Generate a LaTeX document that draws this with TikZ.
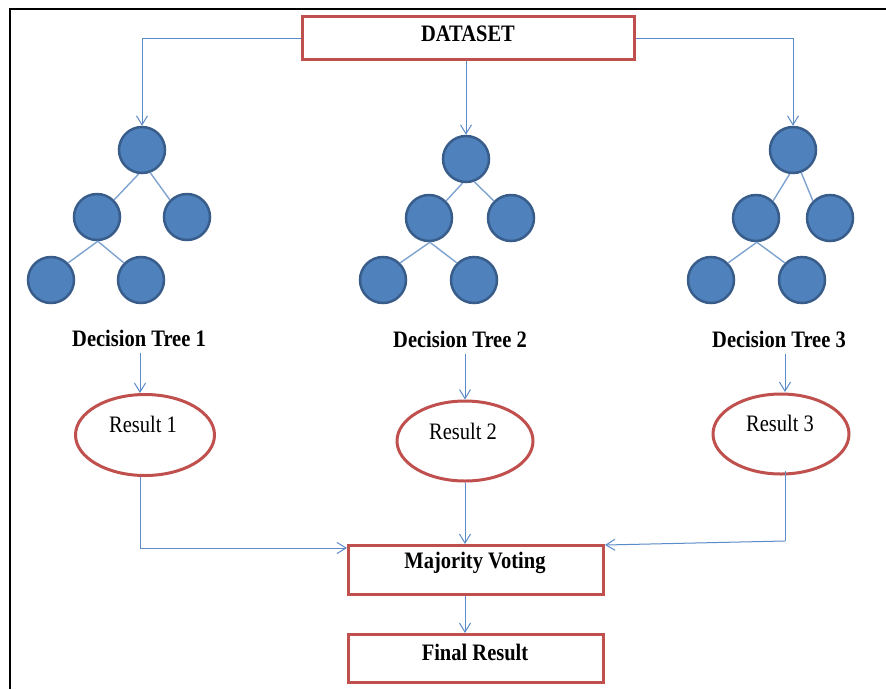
\documentclass[tikz,border=0pt]{standalone}
\usepackage{fontspec}
\setmainfont{Liberation Serif}
\usetikzlibrary{arrows.meta,shapes.geometric,calc}
\definecolor{boxred}{HTML}{C0504D}
\definecolor{nodeblue}{HTML}{4F81BD}
\definecolor{nodeborder}{HTML}{385D8A}
\definecolor{linkblue}{HTML}{5B8BC8}
\definecolor{edgeblue}{HTML}{7FA3D1}
\newcommand\vstr[1]{\scalebox{1}[1.15]{#1}}
\tikzset{
  redbox/.style={draw=boxred,line width=3pt,rectangle,inner sep=0pt},
  redell/.style={draw=boxred,line width=3pt,ellipse,inner sep=0pt},
  treenode/.style={circle,fill=nodeblue,draw=nodeborder,line width=2.5pt,minimum size=46pt,inner sep=0pt},
  treeedge/.style={draw=edgeblue,line width=1.4pt},
  arr/.style={draw=linkblue,line width=1pt,-{Straight Barb[length=9pt,width=11pt,line width=1pt]}},
  link/.style={draw=linkblue,line width=1pt},
  boldtxt/.style={font=\fontsize{20.5}{24}\selectfont\bfseries,inner sep=2pt},
  regtxt/.style={font=\fontsize{20.5}{24}\selectfont,inner sep=2pt},
}
\begin{document}
\begin{tikzpicture}[x=1pt,y=-1pt]
\useasboundingbox (0,0) rectangle (886,689);
\fill[white] (0,0) rectangle (886,689);
% frame
\draw[black,line width=2.2pt] (10,689) -- (10,9) -- (886,9);

% dataset box
\node[redbox,minimum width=332pt,minimum height=43pt] (ds) at (468.5,38) {};
\node[boldtxt] (dst) at (468,34) {\vstr{DATASET}};

% tree 1
\node[treenode] (t1a) at (142,150) {};
\node[treenode] (t1b) at (97,217) {};
\node[treenode] (t1c) at (187,217) {};
\node[treenode] (t1d) at (51,280) {};
\node[treenode] (t1e) at (141,280) {};
% tree 2
\node[treenode] (t2a) at (466,159) {};
\node[treenode] (t2b) at (429,218) {};
\node[treenode] (t2c) at (511,218) {};
\node[treenode] (t2d) at (383,280) {};
\node[treenode] (t2e) at (474,280) {};
% tree 3
\node[treenode] (t3a) at (793,150) {};
\node[treenode] (t3b) at (756,218) {};
\node[treenode] (t3c) at (830,218) {};
\node[treenode] (t3d) at (711,280) {};
\node[treenode] (t3e) at (802,280) {};

\begin{scope}[on background layer/.style={}]
\foreach \t in {t1,t2,t3}{
  \draw[treeedge] (\t a.-98) -- (\t b.45);
  \draw[treeedge] (\t a.-70) -- (\t c.135);
  \draw[treeedge] (\t b.-88) -- (\t d.45);
  \draw[treeedge] (\t b.-88) -- (\t e.135);
}
\end{scope}

% tree labels
\node[boldtxt] (l1) at (139,338) {\vstr{Decision Tree 1}};
\node[boldtxt] (l2) at (460,339) {\vstr{Decision Tree 2}};
\node[boldtxt] (l3) at (779,339) {\vstr{Decision Tree 3}};

% results
\node[redell,minimum width=139pt,minimum height=81pt] (r1) at (145,435) {};
\node[redell,minimum width=136pt,minimum height=80pt] (r2) at (465,441) {};
\node[redell,minimum width=136pt,minimum height=80pt] (r3) at (781,434) {};
\node[regtxt] (r1t) at (143,424) {\vstr{Result 1}};
\node[regtxt] (r2t) at (463,431) {\vstr{Result 2}};
\node[regtxt] (r3t) at (780,423) {\vstr{Result 3}};

% majority / final
\node[redbox,minimum width=255pt,minimum height=49pt] (mv) at (476,570) {};
\node[boldtxt] (mvt) at (475,563) {\vstr{Majority Voting}};
\node[redbox,minimum width=255pt,minimum height=48pt] (fr) at (476,658.5) {};
\node[boldtxt] (frt) at (475,652) {\vstr{Final Result}};

% dataset connectors
\draw[arr] (ds.west) -| (t1a.north);
\draw[arr] (ds.south -| t2a.north) -- (t2a.north);
\draw[arr] (ds.east) -| (t3a.north);

% tree labels to results
\draw[arr,shorten <=4pt] (l1.south -| 140,0) -- (140,393);
\draw[arr,shorten <=4pt] (l2.south -| r2.north) -- (r2.north);
\draw[arr,shorten <=4pt] (l3.south -| 785,0) -- (785,392);

% results to majority voting
\coordinate (c1) at ($(mv.north west)+(0,4)$);
\draw[arr] (140,477) |- (c1);
\draw[arr] (r2.south) -- (r2.south |- mv.north);
\coordinate (c3) at (785,541);
\coordinate (c3e) at ($(mv.north east)+(0,1)$);
\draw[link] (785,471) -- (c3);
\draw[arr] (c3) -- (c3e);

% majority to final
\draw[arr] (r2.south |- mv.south) -- (r2.south |- fr.north);
\end{tikzpicture}
\end{document}
